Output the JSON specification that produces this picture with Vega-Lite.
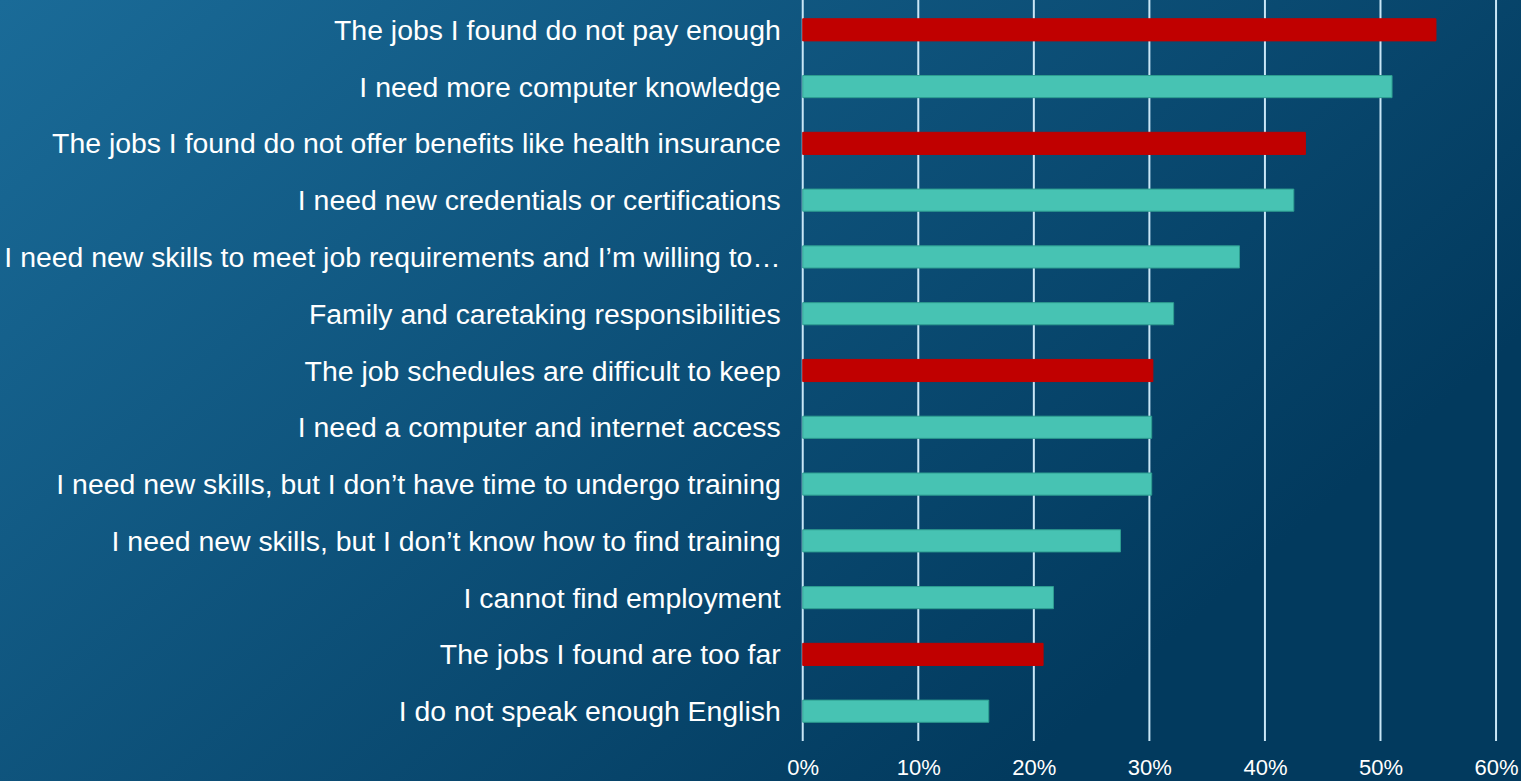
{
  "$schema": "https://vega.github.io/schema/vega-lite/v6.json",
  "width": 1521,
  "height": 781,
  "autosize": {"type": "none"},
  "padding": 0,
  "background": "#0b4d75",
  "config": {
    "font": "Liberation Sans",
    "view": {
      "stroke": null,
      "fill": {
        "gradient": "linear",
        "x1": 0, "y1": 0, "x2": 0.93, "y2": 0.55,
        "stops": [
          {"offset": 0, "color": "#1a6b98"},
          {"offset": 1, "color": "#023a5e"}
        ]
      }
    }
  },
  "datasets": {
    "reasons": [
      {"reason": "The jobs I found do not pay enough", "share": 0.548, "group": "Job conditions"},
      {"reason": "I need more computer knowledge", "share": 0.510, "group": "Worker needs"},
      {"reason": "The jobs I found do not offer benefits like health insurance", "share": 0.435, "group": "Job conditions"},
      {"reason": "I need new credentials or certifications", "share": 0.425, "group": "Worker needs"},
      {"reason": "I need new skills to meet job requirements and I’m willing to…", "share": 0.378, "group": "Worker needs"},
      {"reason": "Family and caretaking responsibilities", "share": 0.321, "group": "Worker needs"},
      {"reason": "The job schedules are difficult to keep", "share": 0.303, "group": "Job conditions"},
      {"reason": "I need a computer and internet access", "share": 0.302, "group": "Worker needs"},
      {"reason": "I need new skills, but I don’t have time to undergo training", "share": 0.302, "group": "Worker needs"},
      {"reason": "I need new skills, but I don’t know how to find training", "share": 0.275, "group": "Worker needs"},
      {"reason": "I cannot find employment", "share": 0.217, "group": "Worker needs"},
      {"reason": "The jobs I found are too far", "share": 0.208, "group": "Job conditions"},
      {"reason": "I do not speak enough English", "share": 0.161, "group": "Worker needs"}
    ],
    "ticks": [
      {"tick": 0}, {"tick": 0.1}, {"tick": 0.2}, {"tick": 0.3}, {"tick": 0.4}, {"tick": 0.5}, {"tick": 0.6}
    ]
  },
  "resolve": {"scale": {"y": "independent"}},
  "layer": [
    {
      "data": {"name": "ticks"},
      "mark": {"type": "rule", "color": "#c9e6f6", "strokeWidth": 2},
      "encoding": {
        "x": {
          "field": "tick",
          "type": "quantitative",
          "scale": {"domain": [-0.6947, 0.6216], "nice": false, "zero": false},
          "axis": {
            "orient": "bottom",
            "values": [0, 0.1, 0.2, 0.3, 0.4, 0.5, 0.6],
            "format": ".0%",
            "title": null,
            "domain": false,
            "ticks": false,
            "grid": false,
            "labelColor": "#ffffff",
            "labelFontSize": 22,
            "labelFont": "Liberation Sans",
            "labelBaseline": "middle",
            "labelPadding": -14,
            "offset": 0
          }
        },
        "y": {
          "datum": 1,
          "type": "quantitative",
          "scale": {"domain": [-0.054, 1], "nice": false, "zero": false},
          "axis": null
        },
        "y2": {"datum": 0}
      }
    },
    {
      "data": {"name": "reasons"},
      "encoding": {
        "y": {
          "field": "reason",
          "type": "nominal",
          "sort": null,
          "axis": null,
          "scale": {"range": [0, 741], "paddingInner": 0.61, "paddingOuter": 0.33}
        }
      },
      "layer": [
        {
          "mark": {"type": "bar", "strokeWidth": 1},
          "encoding": {
            "x": {"field": "share", "type": "quantitative"},
            "x2": {"datum": 0},
            "color": {
              "field": "group",
              "type": "nominal",
              "scale": {"domain": ["Job conditions", "Worker needs"], "range": ["#c00000", "#47c3b3"]},
              "legend": null
            },
            "stroke": {
              "field": "group",
              "type": "nominal",
              "scale": {"domain": ["Job conditions", "Worker needs"], "range": ["#c00000", "#2e9d90"]},
              "legend": null
            }
          }
        },
        {
          "mark": {
            "type": "text",
            "align": "right",
            "baseline": "middle",
            "dx": -22,
            "dy": 1,
            "fontSize": 28.4,
            "font": "Liberation Sans",
            "color": "#ffffff"
          },
          "encoding": {
            "x": {"datum": 0},
            "text": {"field": "reason"}
          }
        }
      ]
    }
  ]
}
